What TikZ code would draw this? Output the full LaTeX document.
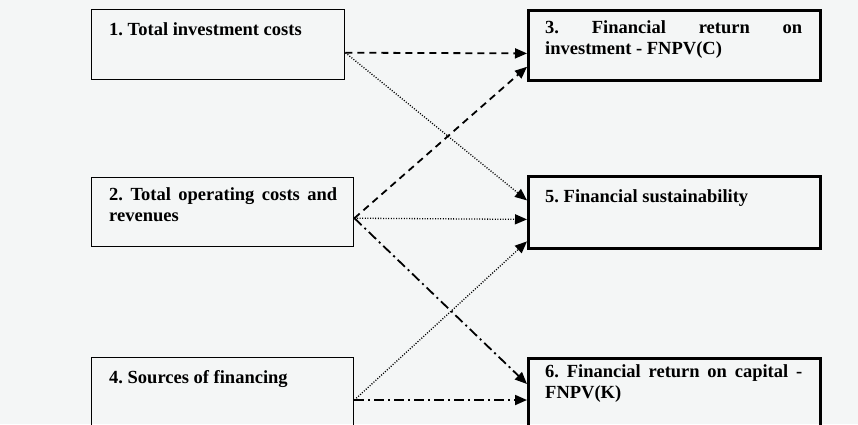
\documentclass[tikz,border=0pt]{standalone}
\usepackage{fontspec}
\setmainfont{Liberation Serif}
\usetikzlibrary{arrows.meta}
\definecolor{fond}{RGB}{244,246,246}
\hyphenpenalty=10000
\exhyphenpenalty=10000

\begin{document}
\frenchspacing
\begin{tikzpicture}[x=1pt, y=-1pt,
    boite/.style={draw, line width=1.4pt, inner sep=0pt, anchor=north west},
    boitegras/.style={draw, line width=2.8pt, inner sep=0pt, anchor=north west},
    texte/.style={anchor=base west, inner sep=0pt, align=justify, text width=#1,
        font=\bfseries\fontsize{18.5}{21.5}\selectfont\frenchspacing},
    fleche/.style={-{Triangle[length=12pt, width=10pt]}},
    tirets/.style={fleche, line width=1.8pt, dash pattern=on 7pt off 5pt},
    points/.style={fleche, line width=1.3pt, dash pattern=on 1pt off 1.6pt},
    mixte/.style={fleche, line width=1.8pt, dash pattern=on 10pt off 4pt on 2pt off 4pt}]
    % Fond
    \fill[fond] (0,0) rectangle (858,424);
    \clip (0,0) rectangle (858,424);

    % Boites de gauche
    \node[boite, minimum width=253pt, minimum height=70pt] (b1) at (91,9) {};
    \node[boite, minimum width=262pt, minimum height=69pt] (b2) at (91,177) {};
    \node[boite, minimum width=262pt, minimum height=100pt] (b4) at (91,357) {};

    % Boites de droite
    \node[boitegras, minimum width=292pt, minimum height=70pt] (b3) at (527,9) {};
    \node[boitegras, minimum width=292pt, minimum height=72pt] (b5) at (527,175) {};
    \node[boitegras, minimum width=292pt, minimum height=100pt] (b6) at (527,357) {};

    % Textes
    \node[texte=230pt] (t1) at (109,35) {1. Total investment costs};
    \node[texte=228pt] (t2) at (109,200) {2. Total operating costs and revenues};
    \node[texte=228pt] (t4) at (109,383) {4. Sources of financing};
    \node[texte=257pt] (t3) at (545,33) {3. Financial return on\linebreak investment - FNPV(C)};
    \node[texte=257pt] (t5) at (545,202) {5. Financial sustainability};
    \node[texte=257pt] (t6) at (545,377) {6. Financial return on capital - FNPV(K)};

    % Fleches
    \draw[tirets] ([yshift=-8pt]b1.east) -- ([yshift=-8pt]b3.west);
    \draw[points] ([yshift=-8pt]b1.east) -- ([yshift=12pt]b5.west);
    \draw[tirets] ([yshift=-6pt]b2.east) -- ([yshift=15pt]b3.south west);
    \draw[points] ([yshift=-6pt]b2.east) -- ([yshift=-7pt]b5.west);
    \draw[mixte] ([yshift=-6pt]b2.east) -- ([yshift=-27pt]b6.north west);
    \draw[points] ([yshift=-43pt]b4.north east) -- ([yshift=-29pt]b5.west);
    \draw[mixte] ([yshift=-43pt]b4.north east) -- ([yshift=-43pt]b6.north west);
\end{tikzpicture}
\end{document}
